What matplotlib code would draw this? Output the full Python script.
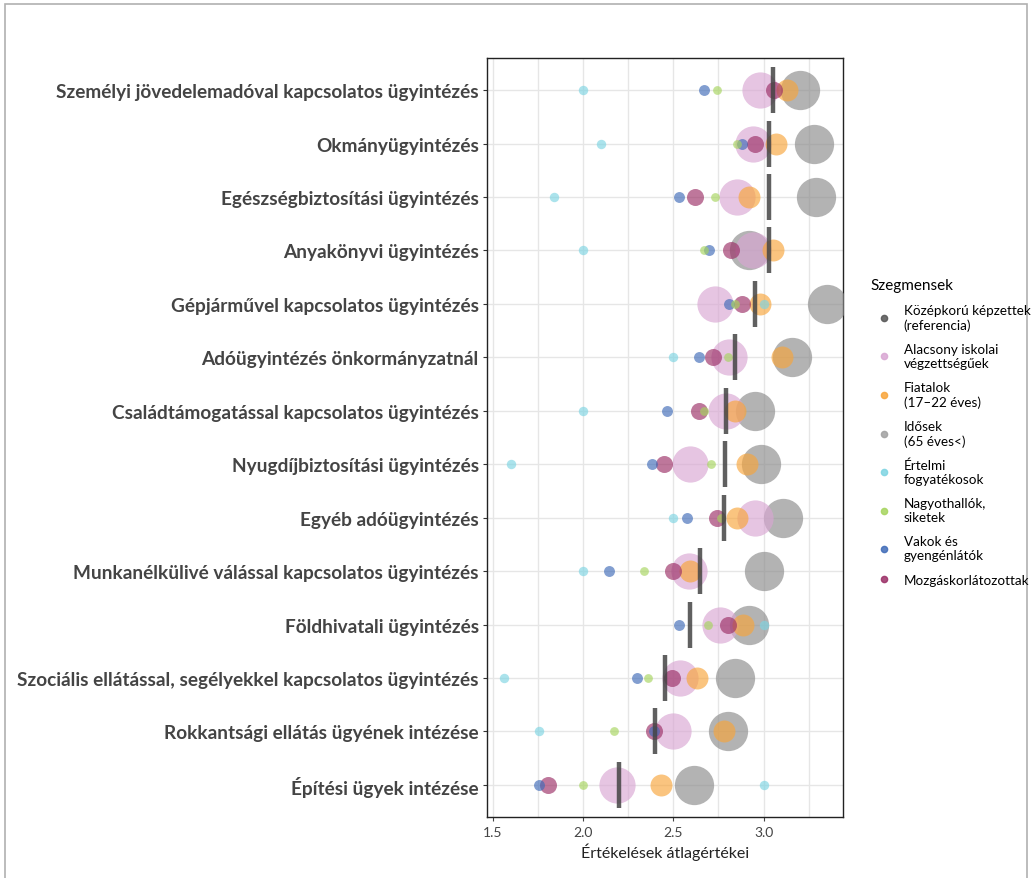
import matplotlib
matplotlib.use("Agg")
import matplotlib.pyplot as plt
from matplotlib.lines import Line2D
from matplotlib.patches import Rectangle
from matplotlib.ticker import MultipleLocator

plt.rcParams['font.family'] = ['Lato', 'DejaVu Sans']

# ügyintézés típusok (felülről lefelé)
categories = [
    "Személyi jövedelemadóval kapcsolatos ügyintézés",
    "Okmányügyintézés",
    "Egészségbiztosítási ügyintézés",
    "Anyakönyvi ügyintézés",
    "Gépjárművel kapcsolatos ügyintézés",
    "Adóügyintézés önkormányzatnál",
    "Családtámogatással kapcsolatos ügyintézés",
    "Nyugdíjbiztosítási ügyintézés",
    "Egyéb adóügyintézés",
    "Munkanélkülivé válással kapcsolatos ügyintézés",
    "Földhivatali ügyintézés",
    "Szociális ellátással, segélyekkel kapcsolatos ügyintézés",
    "Rokkantsági ellátás ügyének intézése",
    "Építési ügyek intézése",
]

# szegmensek átlagértékei
kozepkoru = [3.05, 3.03, 3.03, 3.03, 2.95, 2.84, 2.79, 2.785, 2.78, 2.65, 2.59, 2.455, 2.40, 2.20]
alacsony  = [2.98, 2.94, 2.855, 2.94, 2.73, 2.81, 2.79, 2.59, 2.95, 2.585, 2.76, 2.535, 2.50, 2.185]
fiatalok  = [3.13, 3.07, 2.92, 3.05, 2.98, 3.10, 2.84, 2.91, 2.855, 2.59, 2.885, 2.63, 2.78, 2.43]
idosek    = [3.20, 3.28, 3.29, 2.92, 3.35, 3.16, 2.955, 2.985, 3.11, 3.00, 2.92, 2.84, 2.80, 2.615]
ertelmi   = [2.00, 2.10, 1.84, 2.00, 3.00, 2.50, 2.00, 1.60, 2.50, 2.00, 3.00, 1.56, 1.755, 3.00]
nagyoth   = [2.74, 2.855, 2.73, 2.67, 2.84, 2.80, 2.67, 2.71, 2.765, 2.335, 2.69, 2.36, 2.17, 2.00]
vakok     = [2.67, 2.88, 2.53, 2.70, 2.81, 2.64, 2.465, 2.38, 2.575, 2.145, 2.53, 2.30, 2.39, 1.755]
mozgas    = [3.06, 2.95, 2.62, 2.82, 2.88, 2.72, 2.64, 2.45, 2.74, 2.50, 2.805, 2.49, 2.395, 1.805]

legend_labels = [
    "Középkorú képzettek\n(referencia)",
    "Alacsony iskolai\nvégzettségűek",
    "Fiatalok\n(17–22 éves)",
    "Idősek\n(65 éves<)",
    "Értelmi\nfogyatékosok",
    "Nagyothallók,\nsiketek",
    "Vakok és\ngyengénlátók",
    "Mozgáskorlátozottak",
]

# (értékek, szín, méret) rajzolási sorrendben
bubbles = [
    (idosek,   "#8a8a8a", 800),
    (alacsony, "#d9a6d3", 680),
    (fiatalok, "#f8a53a", 250),
    (mozgas,   "#9b2f66", 150),
    (vakok,    "#3f6bb8", 62),
    (nagyoth,  "#a6d45e", 40),
    (ertelmi,  "#7ed4e2", 46),
]
legend_colors = ["#555555", "#d9a6d3", "#f8a53a", "#a0a0a0", "#7ed4e2", "#a6d45e", "#3f6bb8", "#9b2f66"]

W, H = 1034, 879
fig = plt.figure(figsize=(W / 100, H / 100), dpi=100)
ax = fig.add_axes([487 / W, (H - 818) / H, (843 - 487) / W, (818 - 59) / H])

ypos = list(range(len(categories)))

for vals, col, size in bubbles:
    ax.scatter(vals, ypos, s=size, color=col, alpha=0.65, linewidths=0, zorder=3)

ax.vlines(kozepkoru, [y - 0.43 for y in ypos], [y + 0.43 for y in ypos],
          color="#444444", linewidth=3.2, alpha=0.85, zorder=4)

ax.set_xlim(1.467, 3.44)
ax.set_ylim(len(categories) - 0.4, -0.6)
ax.set_yticks(ypos)
ax.set_yticklabels(categories, fontsize=13.7, fontweight="bold", color="#444444")
ax.xaxis.set_major_locator(MultipleLocator(0.5))
ax.xaxis.set_minor_locator(MultipleLocator(0.25))
ax.xaxis.set_major_formatter(matplotlib.ticker.FormatStrFormatter("%.1f"))
ax.tick_params(axis="x", which="major", labelsize=10, colors="#444444", length=3)
ax.tick_params(axis="x", which="minor", length=0)
ax.tick_params(axis="y", length=3, color="#333333", pad=3)
ax.grid(True, which="both", color="#e6e6e6", linewidth=1.0, zorder=0)
ax.set_axisbelow(True)
for sp in ax.spines.values():
    sp.set_color("#222222")
    sp.set_linewidth(1.0)
ax.set_xlabel("Értékelések átlagértékei", fontsize=11.5, color="#222222", labelpad=3)

handles = [Line2D([], [], marker="o", linestyle="", markersize=4.5, color=c, alpha=0.85)
           for c in legend_colors]
leg = fig.legend(handles, legend_labels, title="Szegmensek", loc="upper left",
                 bbox_to_anchor=(858 / W, 1 - 267 / H), frameon=False,
                 fontsize=9.7, title_fontsize=11, labelspacing=0.9,
                 handletextpad=0.5, alignment="left")

# külső keret
fig.patches.append(Rectangle((5 / W, -0.02), (1027 - 5) / W, 1 - 5 / H + 0.02,
                             transform=fig.transFigure, fill=False,
                             edgecolor="#b0b0b0", linewidth=1.2))

fig.savefig("out.png", dpi=100)
